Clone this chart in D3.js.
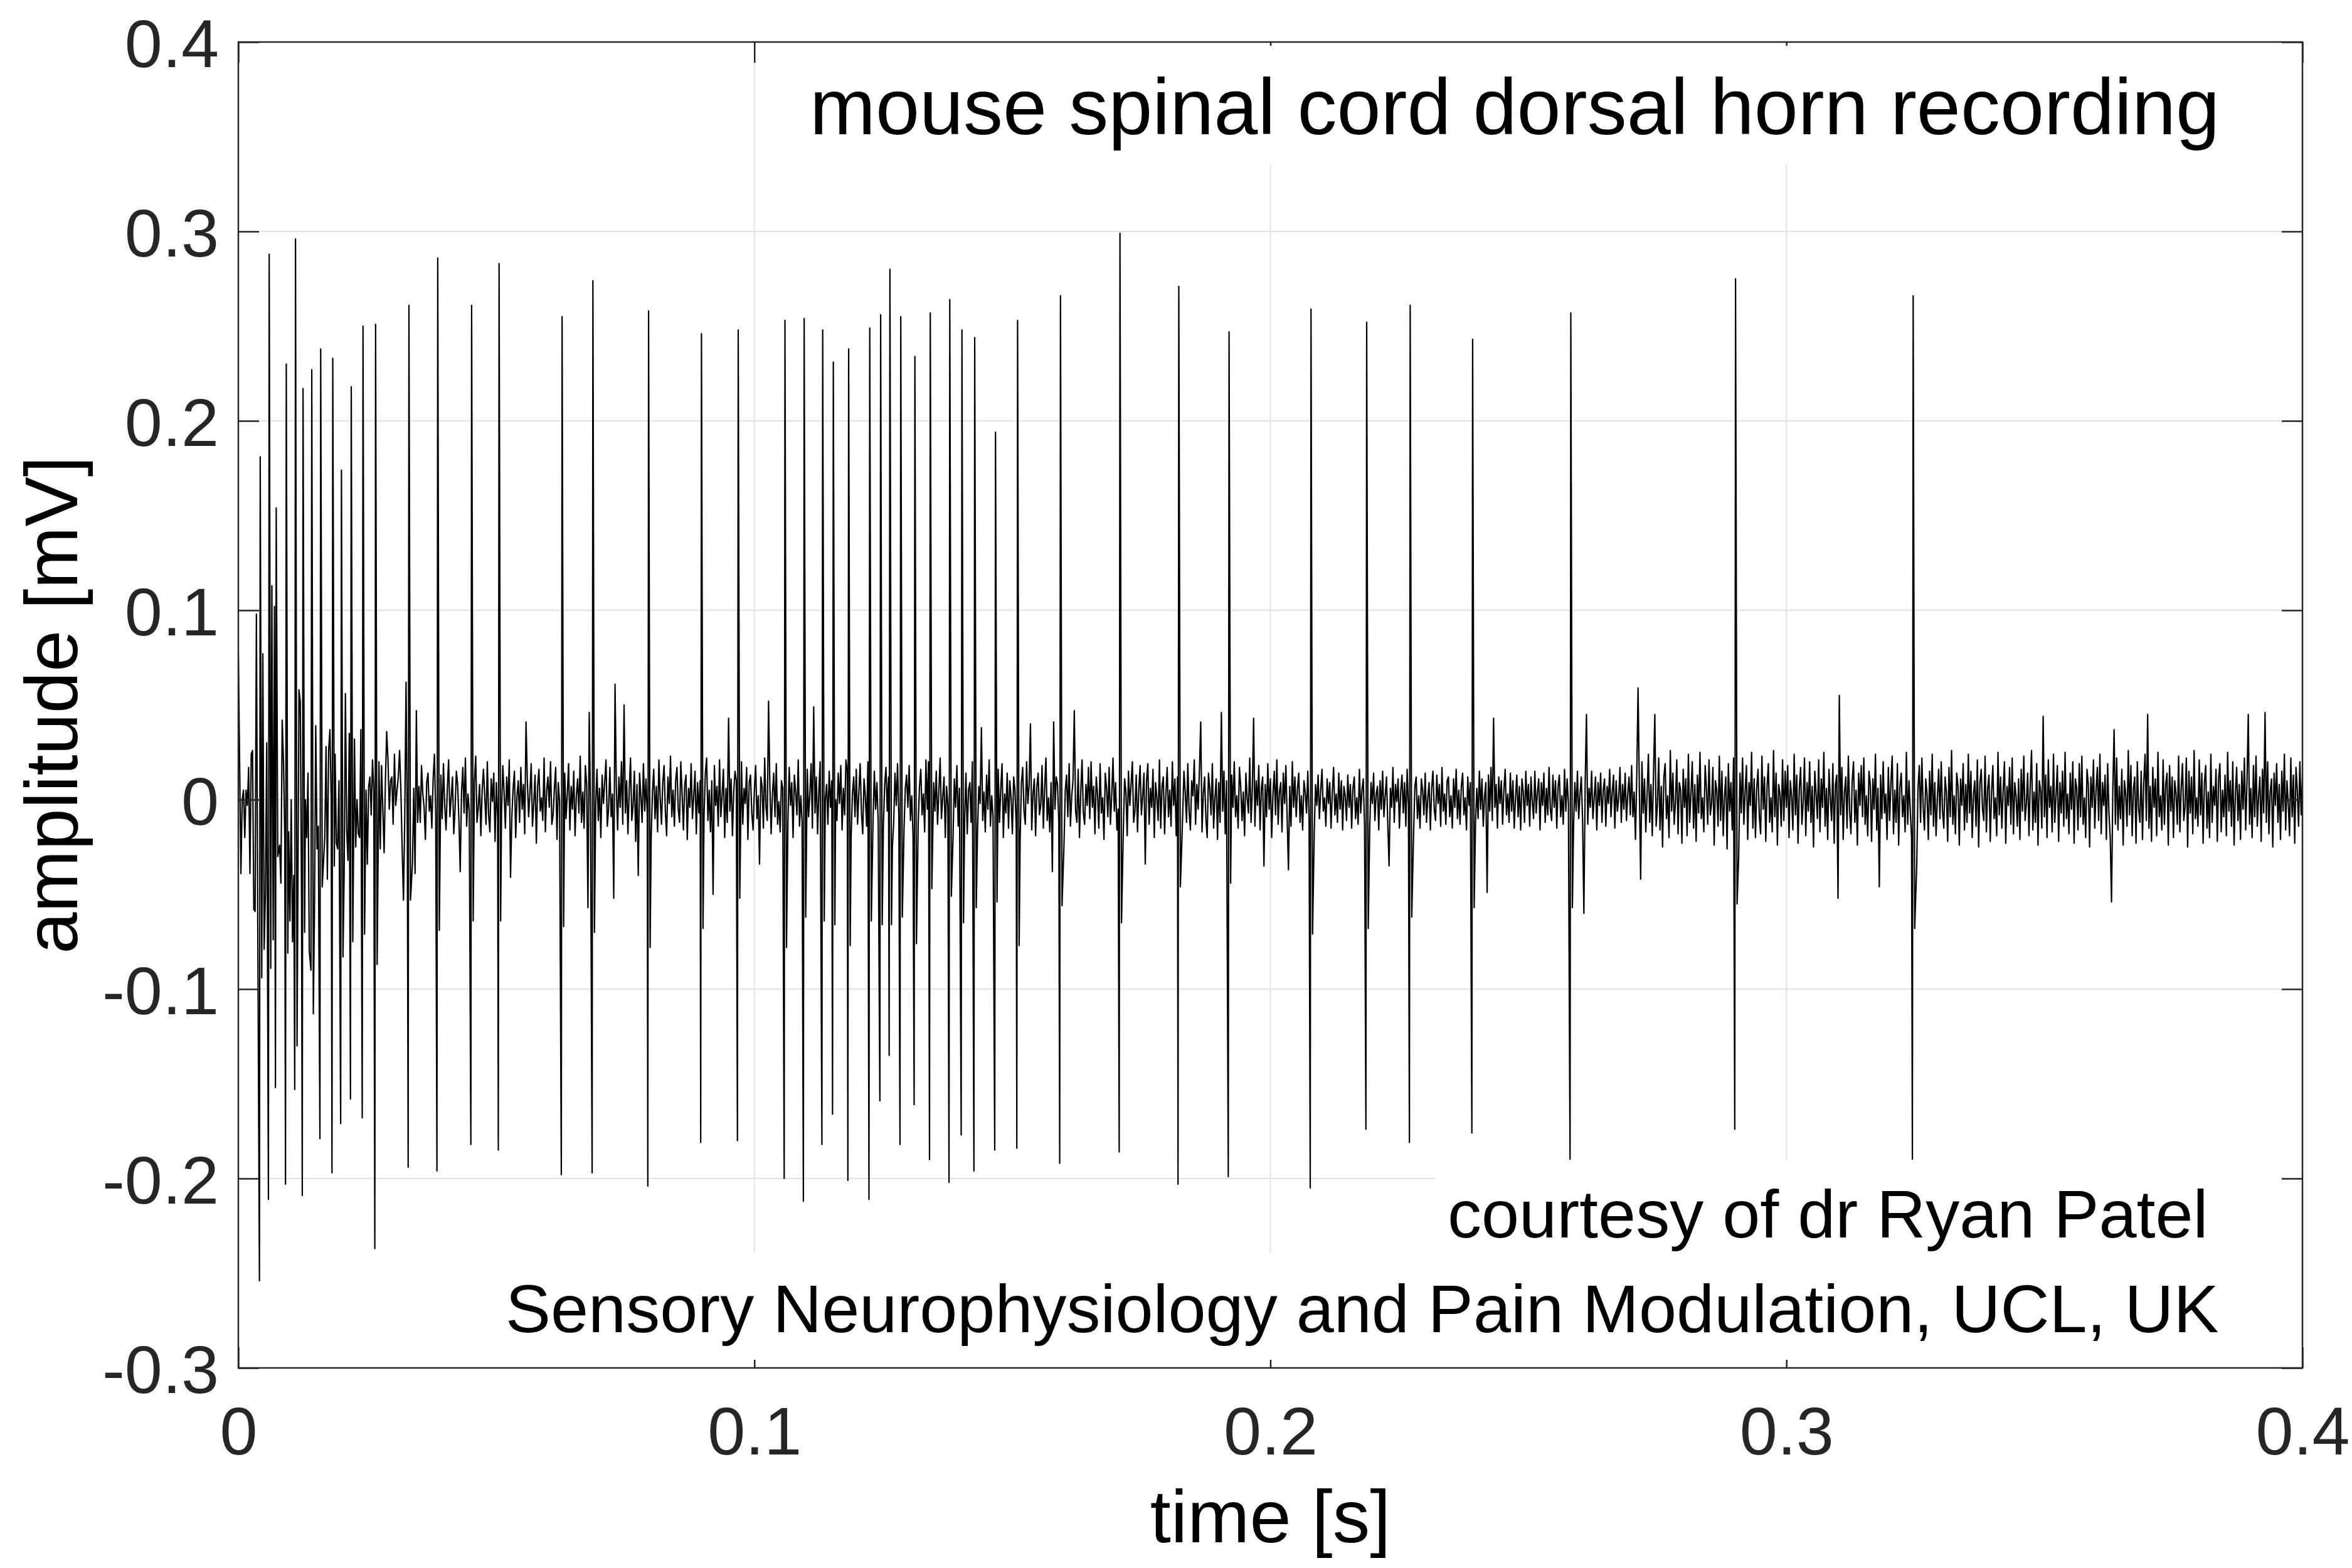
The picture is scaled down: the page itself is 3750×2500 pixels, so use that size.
<!DOCTYPE html>
<html>
<head>
<meta charset="utf-8">
<script src="https://cdn.jsdelivr.net/npm/d3@7/dist/d3.min.js"></script>
<style>
  body { margin: 0; background: #fff; }
  text { font-family: "Liberation Sans", Arial, Helvetica, sans-serif; }
</style>
</head>
<body>
<script>
const w = 3750;
const h = 2500;
const margin = { left: 380, right: 79, top: 67, bottom: 319 };

// tick values
const xTicks = [0, 0.1, 0.2, 0.3, 0.4];
const yTicks = [-0.3, -0.2, -0.1, 0, 0.1, 0.2, 0.3, 0.4];

// spikes: time [s], positive peak, negative trough, after-dip [mV]
const spikeTimes = [0.00424, 0.00598, 0.00734, 0.00929, 0.01108, 0.01254, 0.01423, 0.01596, 0.01830, 0.01998,
  0.02188, 0.02416, 0.02660, 0.03306, 0.03864, 0.04521, 0.05053, 0.06274, 0.06871, 0.07950,
  0.08975, 0.09687, 0.10593, 0.10965, 0.11324, 0.11530, 0.11827, 0.12236, 0.12447, 0.12627,
  0.12837, 0.13111, 0.13409, 0.13787, 0.14023, 0.14270, 0.14673, 0.15101, 0.15932, 0.17085,
  0.18225, 0.19199, 0.20787, 0.21866, 0.22709, 0.23919, 0.25822, 0.29014, 0.32456];
const spikePeaks = [0.181, 0.288, 0.154, 0.230, 0.296, 0.217, 0.227, 0.238, 0.233, 0.174,
  0.218, 0.250, 0.251, 0.261, 0.286, 0.261, 0.283, 0.255, 0.274, 0.258,
  0.246, 0.248, 0.253, 0.254, 0.248, 0.231, 0.238, 0.249, 0.256, 0.280,
  0.255, 0.234, 0.257, 0.264, 0.248, 0.244, 0.194, 0.253, 0.266, 0.299,
  0.271, 0.247, 0.259, 0.252, 0.261, 0.243, 0.257, 0.275, 0.266];
const spikeTroughs = [-0.254, -0.211, -0.152, -0.203, -0.153, -0.209, -0.090, -0.179, -0.197, -0.171,
  -0.158, -0.168, -0.237, -0.194, -0.196, -0.182, -0.185, -0.198, -0.197, -0.204,
  -0.181, -0.180, -0.200, -0.212, -0.182, -0.166, -0.201, -0.211, -0.159, -0.135,
  -0.182, -0.161, -0.190, -0.202, -0.177, -0.196, -0.185, -0.184, -0.192, -0.186,
  -0.203, -0.199, -0.205, -0.174, -0.181, -0.176, -0.191, -0.174, -0.191];
const spikeDips = [-0.094, -0.089, -0.030, -0.081, -0.130, -0.070, -0.113, -0.046, -0.035, -0.083,
  -0.075, -0.071, -0.087, -0.053, -0.069, -0.064, -0.064, -0.067, -0.070, -0.078,
  -0.068, -0.052, -0.078, -0.062, -0.064, -0.066, -0.077, -0.064, -0.066, -0.066,
  -0.062, -0.076, -0.047, -0.051, -0.065, -0.057, -0.054, -0.077, -0.056, -0.065,
  -0.046, -0.044, -0.071, -0.068, -0.062, -0.057, -0.057, -0.055, -0.068];

// background trace in microvolts, one sample every 0.25 ms, 20 samples per row
const sampleStep = 0.00025;
const noiseRows = [
  [77, 20, -39, 0, 5, -20, 5, -3, 17, -39, 24, 26, -58, -59, 98, -56, 20, 0, -30, 77],
  [-79, -50, 30, 0, 0, 0, 113, -74, 102, 0, 0, 36, -24, -44, 42, 20, -19, 0, 0, -17],
  [-64, 0, -75, -40, 0, 0, -60, 58, 52, -54, 0, 0, 0, -20, 14, -80, 0, 0, 0, -60],
  [39, -26, -14, 0, 0, 0, -33, -20, 28, -42, 26, 37, 0, 0, 0, 24, -23, -26, 10, 26],
  [0, 0, -40, 56, -16, -32, 35, 0, 0, 0, 32, -25, 0, -18, -20, 37, 0, 0, 0, 5],
  [-34, 7, 12, -8, 21, 5, 0, 0, 0, 20, -26, 18, -5, -28, 10, 36, 21, -5, 10, 12],
  [-13, 24, -3, 5, 12, 26, 5, -26, -53, -10, 62, -20, 0, 0, 0, -33, 6, -39, 47, -12],
  [7, -12, 18, 3, -4, -21, 9, 14, -6, 2, -15, 11, 24, -8, 0, 0, 0, 13, -10, 19],
  [-3, -16, 6, 21, -9, 1, 12, -18, -5, 15, 8, -11, -38, 4, 17, -7, 22, -14, 3, -6],
  [0, 0, 0, 10, 23, -12, -4, 8, -19, 5, 16, 2, -13, 20, -8, -17, 11, -1, 14, -22],
  [9, -10, 0, 0, -7, 18, 4, -15, 12, -3, 21, -41, -9, 6, 15, -20, 2, 10, -12, 17],
  [-5, 8, -18, 41, 11, -9, 3, 19, -14, -2, 13, -23, 7, 16, -6, 1, -11, 22, -17, 5],
  [12, -4, 20, -13, -8, 6, 17, -21, 9, -1, 0, 0, 0, 14, -10, 3, 19, -16, 7, -5],
  [15, -19, 2, 11, -7, 23, -12, 4, -15, 18, 8, -57, 46, -6, 0, 0, 0, -3, 16, -11],
  [6, -20, 13, -2, 9, 21, -14, -5, 17, -9, 3, -52, 61, 7, -16, 12, -4, 20, -13, 50],
  [-7, 10, -18, 5, 22, -11, -3, 15, -22, 8, -40, 14, 2, -12, 19, -6, 11, -8, 0, 0],
  [-20, 4, 16, -10, 7, -17, 21, 1, -13, 9, 18, -6, -19, 12, -2, 23, -9, 5, -14, 10],
  [17, -5, -12, 20, 3, -16, 8, 13, -21, 6, -4, 19, -10, 2, 15, -18, 9, -7, 10, 0],
  [0, -8, 14, 22, -11, 5, -17, 10, -50, 18, -3, 7, -14, 21, -9, 2, 16, -20, 6, -12],
  [43, -6, 11, -19, 4, 15, 10, 0, 0, -8, 20, -13, 6, -2, 17, -21, 9, 13, -7, -16],
  [5, 18, -10, 2, -34, 12, 7, -15, 22, -4, -11, 52, 8, -18, 3, 14, -9, 19, -13, -1],
  [-17, 10, 6, 0, 0, 0, -12, 17, -3, 9, -20, 13, 4, -8, 21, -14, 2, -12, 0, 0],
  [0, 16, -9, 3, 19, -15, 49, -7, 12, -18, 5, 20, -11, 0, 0, 0, 8, -13, 15, -4],
  [10, 0, 0, 0, -11, 14, -2, 18, -16, 6, -8, 21, 15, 0, 0, -20, 3, 12, -9, 16],
  [-13, 4, 19, -7, -18, 11, 2, -14, 20, 0, 0, 0, -10, 15, -5, 9, -12, 0, 0, 0],
  [-14, 8, 17, -6, 12, 0, 0, -25, -12, 14, -3, 19, -9, 0, 0, 0, -16, 6, 13, -4],
  [18, -11, 2, -19, 0, 0, 0, -12, 7, 16, -8, 3, -17, 21, -5, 20, 0, 0, -19, 9],
  [-6, 15, -13, 4, 22, -10, 1, 12, -20, 7, -3, 0, 0, 0, -20, 11, -4, 18, -14, 6],
  [0, 0, 0, -10, 14, -18, 5, 9, -12, 20, 0, 0, 0, -16, 7, -2, 38, -11, 4, -17],
  [13, -5, 21, -14, 2, -9, 0, 0, 0, 16, -12, 6, 19, -20, 3, -7, 14, -15, 10, 1],
  [-18, 12, 5, -14, 0, 0, -22, 9, 17, -6, -13, 20, -2, 8, 40, -16, 3, 11, -19, 7],
  [14, -8, -3, 18, -15, 6, 22, -11, 1, -17, 9, -38, 41, -5, 12, 8, -12, 0, 0, 14],
  [-24, 5, 13, -9, 19, -14, 2, 10, 47, -6, -12, 16, -20, 4, 21, -7, -13, 8, -3, 17],
  [-10, 20, -4, 7, -18, 12, 3, -15, 19, -7, 1, -21, 14, 6, -9, 17, -13, 2, 22, -6],
  [9, -16, -5, 0, 0, 0, -16, 11, 4, -19, 15, -3, 8, 20, -12, -6, 13, -17, 5, 18],
  [-8, 2, 14, -34, 10, 19, -13, 6, -4, 16, -20, 9, 1, -11, 21, -15, 7, 12, -18, 3],
  [17, -9, 5, -14, 20, -3, 11, -19, 12, 0, 0, -30, -8, 15, 4, -12, 19, -6, -16, 10],
  [2, 21, -13, 8, -5, 16, 41, -17, 3, 12, -10, -20, 14, 6, -8, 19, -15, 1, 11, -21],
  [9, -12, 46, -6, 15, -18, 10, 0, 0, -20, 13, -4, 20, -9, 2, -15, 17, 7, -11, 4],
  [-19, 14, 1, -7, 22, -12, 5, 43, -14, 10, -3, 18, -16, 6, 12, -35, 8, -9, 19, -5],
  [11, -20, 3, 15, -8, 21, -13, 4, 9, -17, 14, -2, 18, -10, -37, 7, -14, 20, -4, 12],
  [-9, 6, 14, -12, 2, -16, 10, 4, -7, 15, -11, 0, 0, 0, -17, 8, -3, 13, -10, 5],
  [16, -6, 1, -14, 11, -2, 9, -15, 4, 17, -8, 3, -12, 14, -5, 10, -16, 7, 2, -11],
  [13, -4, 8, -15, 6, 12, -10, 1, -13, 16, -7, 5, 11, -14, 0, 0, 0, -15, 9, -2],
  [14, -11, 3, 7, -16, 10, -5, 15, -9, 2, 12, -13, -35, 6, -4, 17, -12, 8, -1, 11],
  [-15, 4, 13, -7, 9, -14, 16, -3, 0, 0, 0, -18, 7, 12, -10, 2, -15, 11, 5, -8],
  [14, -12, 1, 9, -16, 6, 15, -5, -11, 13, -2, 8, -14, 17, -6, 3, -13, 10, 12, -9],
  [2, -15, 11, -4, 16, -10, 5, -13, 7, 14, -8, 1, -16, 12, -3, 9, 0, 0, 0, -12],
  [6, -10, 15, -5, 11, -14, 2, 9, -49, 13, -6, 17, -11, 43, -4, 8, -15, 12, -2, 10],
  [-13, 5, 16, -8, 3, -12, 14, -6, 10, -15, 1, 13, -9, 7, -16, 11, 4, -12, 15, -3],
  [8, -14, 12, -1, -10, 15, -7, 4, 11, -16, 9, -3, 14, -12, 6, -8, 17, -5, -11, 13],
  [-4, 10, -15, 7, 13, -9, 2, -13, 16, -6, 11, -2, 0, 0, 0, -14, 9, -6, 15, -10],
  [3, 12, -11, -60, 8, 45, -13, 6, -4, 15, -10, 1, 12, -16, 9, -3, 14, -12, 5, 11],
  [-14, 7, -2, 16, -9, 4, 13, -15, 10, -6, 1, 17, -12, 8, -5, 14, -11, 3, 12, -8],
  [18, -9, 4, -21, 13, 59, 6, -42, 20, -7, 11, -17, 3, 24, -12, 8, -19, 15, 45, -14],
  [-3, 22, -16, 7, -25, 12, 19, -10, 2, -20, 26, -6, 14, -13, -1, 21, -18, 9, 5, -23],
  [16, -4, 11, -19, 24, -12, 3, 20, -15, 8, -22, 13, -7, 25, -10, 1, -17, 18, 6, -13],
  [21, -8, -2, 17, -24, 10, 5, -14, 23, -11, 15, -19, 2, 12, -26, 19, -6, 9, -16, 22],
  [0, 0, 0, -30, 14, -7, 22, -13, 4, 18, -21, 9, -3, 25, -15, 11, -20, 6, 16, -9],
  [-18, 23, -5, 12, -22, 7, 19, -12, 1, -17, 26, -9, 14, -24, 8, 3, -14, 21, -11, 15],
  [-4, 18, -20, 10, 2, -16, 24, -8, 13, -23, 6, 17, -13, -1, 22, -19, 9, -6, 20, -12],
  [7, -25, 15, 3, -10, 21, -17, 11, -4, 25, -14, 6, -21, 16, 1, -11, 19, -23, 8, 13],
  [-52, 55, -8, 17, -21, 4, 12, -15, 23, -6, -18, 10, 20, -12, 5, -24, 14, -3, 18, -9],
  [22, -13, 2, -19, 15, 8, -22, 11, -5, 24, -16, 6, -46, 13, -10, 20, -7, 3, -21, 17],
  [-11, 9, 23, -18, 5, -12, 19, -24, 7, 14, -9, 2, -17, 25, -13, 10, -6, -20, 0, 0],
  [0, -35, 6, 18, -12, 22, -4, -16, 11, 3, -21, 15, -8, 24, -14, 9, -19, 1, 16, -10],
  [20, -6, -15, 12, 4, -22, 17, -9, 26, -13, 2, -18, 14, 7, -24, 11, -3, 19, -16, 8],
  [-12, 24, -7, 15, -20, 3, 10, -14, 21, -25, 9, 16, -5, -11, 23, -17, 6, 13, -22, 4],
  [18, -10, 1, -19, 25, -8, 12, -15, 5, 20, -23, 7, -3, 17, -13, 22, -18, 9, 2, -14],
  [11, -21, 16, -6, 23, -11, -2, 14, -19, 8, 26, -16, 4, -12, 19, -24, 10, 5, -15, 44],
  [-9, 13, -20, 21, -4, 7, -17, 24, -12, 2, 18, -22, 9, -7, 15, -14, 25, -10, 3, -18],
  [14, -5, 20, -23, 11, 6, -16, 19, -9, 23, -13, 1, -20, 16, 8, -25, 12, -4, 21, -15],
  [5, 17, -11, 24, -18, 9, -3, 13, -21, 19, -7, -20, -54, 5, 37, -13, 22, -16, 7, -10],
  [16, -24, 10, 3, -14, 26, -8, 18, -19, 6, 12, -23, 20, -5, -12, 15, -21, 9, 24, -11],
  [45, -15, 7, -22, 17, -4, 11, -19, 25, -9, 2, -16, 21, -13, 8, 14, -24, 18, -6, 12],
  [-20, 10, 3, -13, 23, -17, 6, 19, -11, -4, 22, -25, 15, -7, 12, -18, 26, -10, 1, -14],
  [21, -8, 14, -23, 9, 18, -15, 4, -20, 24, -12, 7, -3, 16, -22, 11, 19, -17, 5, -9],
  [13, -19, 25, -6, 10, -14, 20, -24, 3, 17, -11, 8, -21, 15, -5, 22, -16, 9, 45, -13],
  [6, -20, 18, -9, 23, -14, 2, 12, -22, 16, -7, 46, -12, 20, -18, 4, 11, -25, 14, -3],
  [19, -12, 8, -21, 15, -6, 24, -16, 10, -2, -19, 22, -9, 13, -23, 17, 5, -14, 20, -8],
  [12]
];

// build the trace: background samples, with each spike's trough, peak and dip in place
let trace = noiseRows.flat().map((v, i) => ({ t: i * sampleStep, v: v / 1000 }));
trace = trace.filter(p => !spikeTimes.some(s => p.t > s - 0.00025 && p.t < s + 0.00045));
spikeTimes.forEach((s, k) => {
  trace.push({ t: s - 0.00015, v: spikeTroughs[k] });
  trace.push({ t: s, v: spikePeaks[k] });
  trace.push({ t: s + 0.0003, v: spikeDips[k] });
});
trace.sort((a, b) => a.t - b.t);

let svg = d3.select("body")
  .append("svg")
  .attr("width", w)
  .attr("height", h)
  .style("background", "#fff");

const x0 = margin.left, x1 = w - margin.right;
const y0 = margin.top, y1 = h - margin.bottom;

let xScale = d3.scaleLinear().domain([0, 0.4]).range([x0, x1]);
let yScale = d3.scaleLinear().domain([-0.3, 0.4]).range([y1, y0]);

const fmt = d => String(+d.toFixed(1));
const axisColor = "#262626";

// grid
svg.append("g")
  .selectAll("line")
  .data(xTicks.slice(1, -1))
  .enter()
  .append("line")
  .attr("x1", d => xScale(d)).attr("x2", d => xScale(d))
  .attr("y1", y0).attr("y2", y1)
  .attr("stroke", "#e2e2e2")
  .attr("stroke-width", 2);

svg.append("g")
  .selectAll("line")
  .data(yTicks.slice(0, -1))
  .enter()
  .append("line")
  .attr("x1", x0).attr("x2", x1)
  .attr("y1", d => yScale(d)).attr("y2", d => yScale(d))
  .attr("stroke", "#e2e2e2")
  .attr("stroke-width", 2);

// trace
svg.append("clipPath").attr("id", "plotclip")
  .append("rect")
  .attr("x", x0).attr("y", y0)
  .attr("width", x1 - x0).attr("height", y1 - y0);

let line = d3.line()
  .x(d => xScale(d.t))
  .y(d => yScale(d.v));

svg.append("path")
  .datum(trace)
  .attr("clip-path", "url(#plotclip)")
  .attr("d", line)
  .attr("fill", "none")
  .attr("stroke", "#000")
  .attr("stroke-width", 2.2)
  .attr("stroke-linejoin", "round");

// axes (ticks inside, box on)
let styleAxis = g => {
  g.select(".domain").remove();
  g.selectAll(".tick line").attr("stroke", axisColor).attr("stroke-width", 2.5);
  g.selectAll(".tick text")
    .attr("fill", axisColor)
    .style("font-size", "108px");
};

let xAxis = d3.axisBottom(xScale).tickValues(xTicks).tickFormat(fmt).tickSizeInner(-33).tickSizeOuter(0).tickPadding(61);
svg.append("g")
  .attr("id", "x-axis")
  .attr("transform", "translate(0," + y1 + ")")
  .call(xAxis)
  .call(styleAxis);

let yAxis = d3.axisLeft(yScale).tickValues(yTicks).tickFormat(fmt).tickSizeInner(-33).tickSizeOuter(0).tickPadding(31);
svg.append("g")
  .attr("id", "y-axis")
  .attr("transform", "translate(" + x0 + ",0)")
  .call(yAxis)
  .call(styleAxis)
  .selectAll(".tick text").attr("dy", "0.37em");

svg.append("g")
  .attr("transform", "translate(0," + y0 + ")")
  .call(d3.axisTop(xScale).tickValues(xTicks).tickFormat("").tickSizeInner(-33).tickSizeOuter(0))
  .call(styleAxis);

svg.append("g")
  .attr("transform", "translate(" + x1 + ",0)")
  .call(d3.axisRight(yScale).tickValues(yTicks).tickFormat("").tickSizeInner(-33).tickSizeOuter(0))
  .call(styleAxis);

// text boxes with white background
let addNote = (txt, size, tx, ty, box) => {
  svg.append("rect")
    .attr("x", box[0]).attr("y", box[1])
    .attr("width", box[2] - box[0]).attr("height", box[3] - box[1])
    .attr("fill", "#fff");
  svg.append("text")
    .attr("x", tx).attr("y", ty)
    .style("font-size", size + "px")
    .attr("fill", "#000")
    .text(txt);
};

addNote("mouse spinal cord dorsal horn recording", 126, 1291, 214, [1270, 73, 3560, 262]);
addNote("Sensory Neurophysiology and Pain Modulation, UCL, UK", 108, 806, 2124, [786, 1997, 3600, 2168]);
addNote("courtesy of dr Ryan Patel", 108, 2308, 1973, [2288, 1849, 3636, 2018]);

// frame
svg.append("rect")
  .attr("x", x0).attr("y", y0)
  .attr("width", x1 - x0).attr("height", y1 - y0)
  .attr("fill", "none")
  .attr("stroke", axisColor)
  .attr("stroke-width", 2.5);

// axis labels
svg.append("text")
  .attr("x", (x0 + x1) / 2)
  .attr("y", 2459)
  .attr("text-anchor", "middle")
  .style("font-size", "119px")
  .attr("fill", "#000")
  .text("time [s]");

svg.append("text")
  .attr("transform", "translate(123," + ((y0 + y1) / 2) + ") rotate(-90)")
  .attr("text-anchor", "middle")
  .style("font-size", "119px")
  .attr("fill", "#000")
  .text("amplitude [mV]");
</script>
</body>
</html>
